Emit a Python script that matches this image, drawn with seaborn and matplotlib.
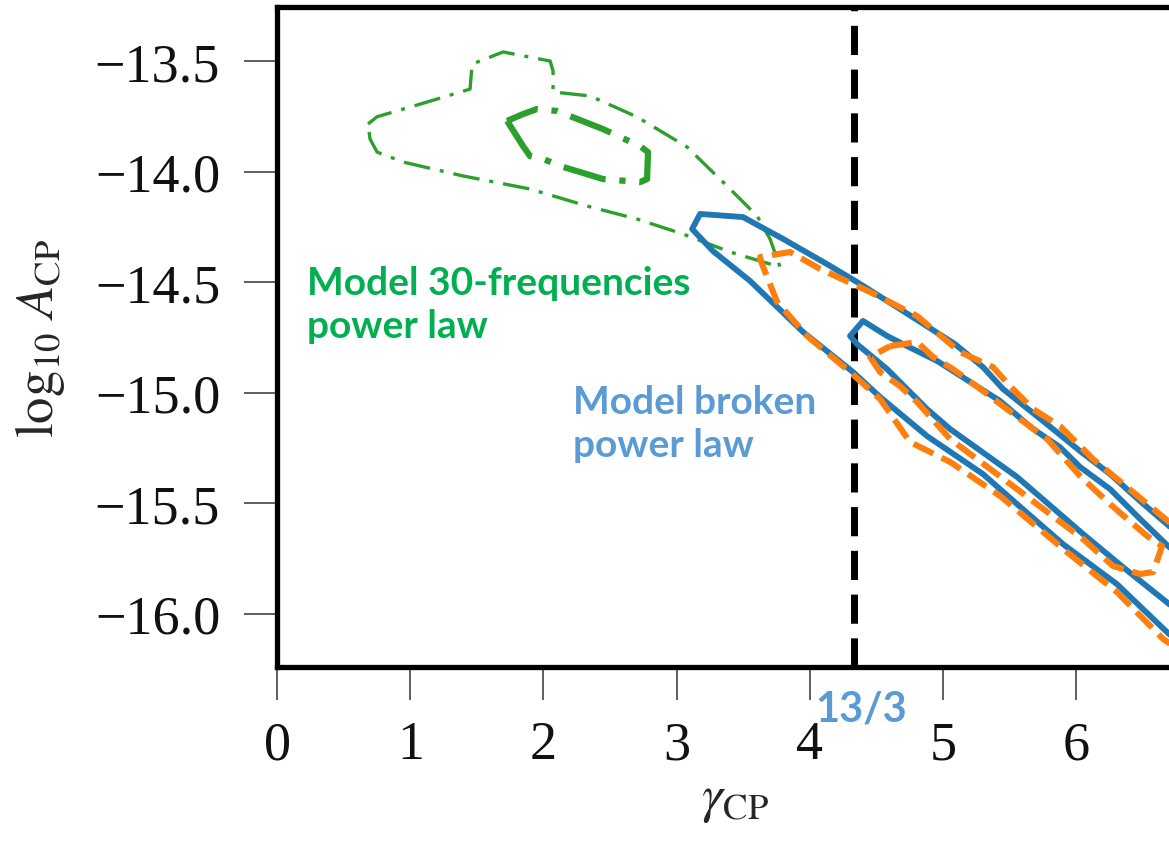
import seaborn as sns
import numpy as np
import matplotlib.pyplot as plt

# contour outlines (gamma_CP, log10 A_CP)
green_outer_x = [0.683, 0.751, 1.074, 1.449, 1.464, 1.697, 2.050, 2.072, 2.072, 2.350, 2.703, 3.078,
                 3.401, 3.604, 3.701, 3.776, 3.626, 3.401, 3.048, 2.703, 2.327, 1.899, 1.396, 0.946,
                 0.751, 0.698, 0.683]
green_outer_y = [-13.785, -13.752, -13.695, -13.627, -13.514, -13.459, -13.500, -13.545, -13.640, -13.658,
                 -13.753, -13.889, -14.079, -14.201, -14.305, -14.432, -14.405, -14.364, -14.283, -14.215,
                 -14.156, -14.079, -14.020, -13.957, -13.912, -13.853, -13.785]

green_inner_x = [1.727, 1.847, 1.899, 1.997, 2.125, 2.447, 2.628, 2.725, 2.778, 2.785, 2.725, 2.447,
                 2.102, 1.952, 1.847, 1.727]
green_inner_y = [-13.771, -13.885, -13.930, -13.943, -13.975, -14.034, -14.043, -14.048, -14.034, -13.912,
                 -13.885, -13.808, -13.726, -13.717, -13.740, -13.771]

blue_outer_x = [6.929, 6.697, 6.479, 6.254, 6.029, 5.751, 5.450, 5.300, 5.090, 4.700, 4.354, 4.129,
                3.799, 3.498, 3.176, 3.116, 3.273, 3.551, 3.949, 4.324, 4.527, 4.880, 5.300, 5.556,
                5.901, 6.306, 6.697, 6.929]
blue_outer_y = [-15.717, -15.604, -15.491, -15.369, -15.265, -15.129, -14.984, -14.885, -14.781, -14.631,
                -14.500, -14.419, -14.305, -14.206, -14.192, -14.260, -14.360, -14.495, -14.726, -14.907,
                -15.020, -15.197, -15.369, -15.505, -15.686, -15.867, -16.093, -16.206]

blue_inner_x = [6.929, 6.697, 6.479, 6.254, 6.029, 5.878, 5.676, 5.428, 5.203, 4.955, 4.730, 4.580,
                4.399, 4.302, 4.354, 4.580, 4.880, 5.053, 5.556, 6.051, 6.351, 6.697, 6.929]
blue_inner_y = [-15.808, -15.699, -15.572, -15.437, -15.337, -15.247, -15.165, -15.038, -14.952, -14.857,
                -14.790, -14.744, -14.676, -14.744, -14.781, -14.894, -15.075, -15.165, -15.382, -15.640,
                -15.790, -15.957, -16.070]

orange_outer_x = [6.929, 6.697, 6.426, 6.126, 5.878, 5.676, 5.503, 5.375, 5.128, 4.805, 4.452, 4.077,
                  3.851, 3.626, 3.626, 3.754, 3.979, 4.302, 4.527, 4.752, 5.053, 5.428, 5.931, 6.306,
                  6.652, 6.929]
orange_outer_y = [-15.699, -15.586, -15.450, -15.301, -15.152, -15.075, -14.971, -14.885, -14.817, -14.654,
                  -14.545, -14.441, -14.364, -14.387, -14.396, -14.590, -14.744, -14.907, -15.029, -15.224,
                  -15.314, -15.468, -15.722, -15.903, -16.115, -16.229]

orange_inner_x = [4.602, 4.805, 4.925, 5.075, 5.300, 5.578, 5.781, 6.029, 6.254, 6.532, 6.644, 6.577,
                  6.479, 6.276, 6.051, 5.556, 5.053, 4.805, 4.677, 4.527, 4.452, 4.602]
orange_inner_y = [-14.790, -14.771, -14.839, -14.894, -14.993, -15.120, -15.210, -15.378, -15.505, -15.649,
                  -15.695, -15.812, -15.821, -15.785, -15.663, -15.437, -15.210, -15.043, -14.971, -14.907,
                  -14.839, -14.790]

gamma_ref = 13 / 3
x_ticks = [0, 1, 2, 3, 4, 5, 6]
y_ticks = [-16.0, -15.5, -15.0, -14.5, -14.0, -13.5]

sns.set_style("ticks")
plt.rcParams['font.family'] = 'serif'
plt.rcParams['font.serif'] = ['Liberation Serif', 'DejaVu Serif']
plt.rcParams['mathtext.fontset'] = 'stix'

fig = plt.figure(figsize=(11.69, 8.45), dpi=100)
ax = fig.add_axes([0.237, 0.2095, 0.7836, 0.781])

ax.axvline(gamma_ref, color='black', lw=5, linestyle=(0, (4.2, 2.1)), zorder=1)

sns.lineplot(x=green_outer_x, y=green_outer_y, sort=False, estimator=None, ax=ax,
             color='#2ca02c', lw=2.4, linestyle=(0, (8, 3, 1.2, 3)))
sns.lineplot(x=green_inner_x, y=green_inner_y, sort=False, estimator=None, ax=ax,
             color='#2ca02c', lw=4.5, linestyle=(0, (7, 2.2, 1, 2.2)))
sns.lineplot(x=blue_outer_x, y=blue_outer_y, sort=False, estimator=None, ax=ax,
             color='#1f77b4', lw=4.2)
sns.lineplot(x=blue_inner_x, y=blue_inner_y, sort=False, estimator=None, ax=ax,
             color='#1f77b4', lw=4.2)
sns.lineplot(x=orange_outer_x, y=orange_outer_y, sort=False, estimator=None, ax=ax,
             color='#ff7f0e', lw=4.4, linestyle=(0, (3.6, 1.5)))
sns.lineplot(x=orange_inner_x, y=orange_inner_y, sort=False, estimator=None, ax=ax,
             color='#ff7f0e', lw=4.4, linestyle=(0, (3.6, 1.5)))

ax.set_xlim(0, 6.877)
ax.set_ylim(-16.2416, -13.2557)
ax.set_xticks(x_ticks)
ax.set_yticks(y_ticks)
ax.set_xticklabels([str(t) for t in x_ticks])
ax.set_yticklabels([f"\u2212{abs(t):.1f}" for t in y_ticks])

for side in ['left', 'bottom', 'top', 'right']:
    ax.spines[side].set_linewidth(3.8)
    ax.spines[side].set_color('black')
ax.tick_params(axis='both', direction='out', length=24, width=1.1, color='#333333',
               labelsize=39, labelcolor='#111111')
ax.tick_params(axis='y', pad=17)
ax.tick_params(axis='x', pad=14)

ax.set_xlabel(r'$\gamma_{\rm CP}$', fontsize=38, labelpad=4)
ax.set_ylabel(r'$\log_{10}\,A_{\rm CP}$', fontsize=38, labelpad=20)

ax.text(0.225, -14.749, 'Model 30-frequencies\npower law', color='#00B050', fontsize=28,
        fontweight='bold', family='Lato', ha='left', va='baseline', linespacing=1.28)
ax.text(2.222, -15.287, 'Model broken\npower law', color='#5B9BD5', fontsize=28,
        fontweight='bold', family='Lato', ha='left', va='baseline', linespacing=1.28)
ax.text(gamma_ref + 0.05, -16.486, '13/3', color='#5B9BD5', fontsize=30,
        fontweight='bold', family='Lato', ha='center', va='baseline', clip_on=False)

fig.savefig('out.png', dpi=100)
